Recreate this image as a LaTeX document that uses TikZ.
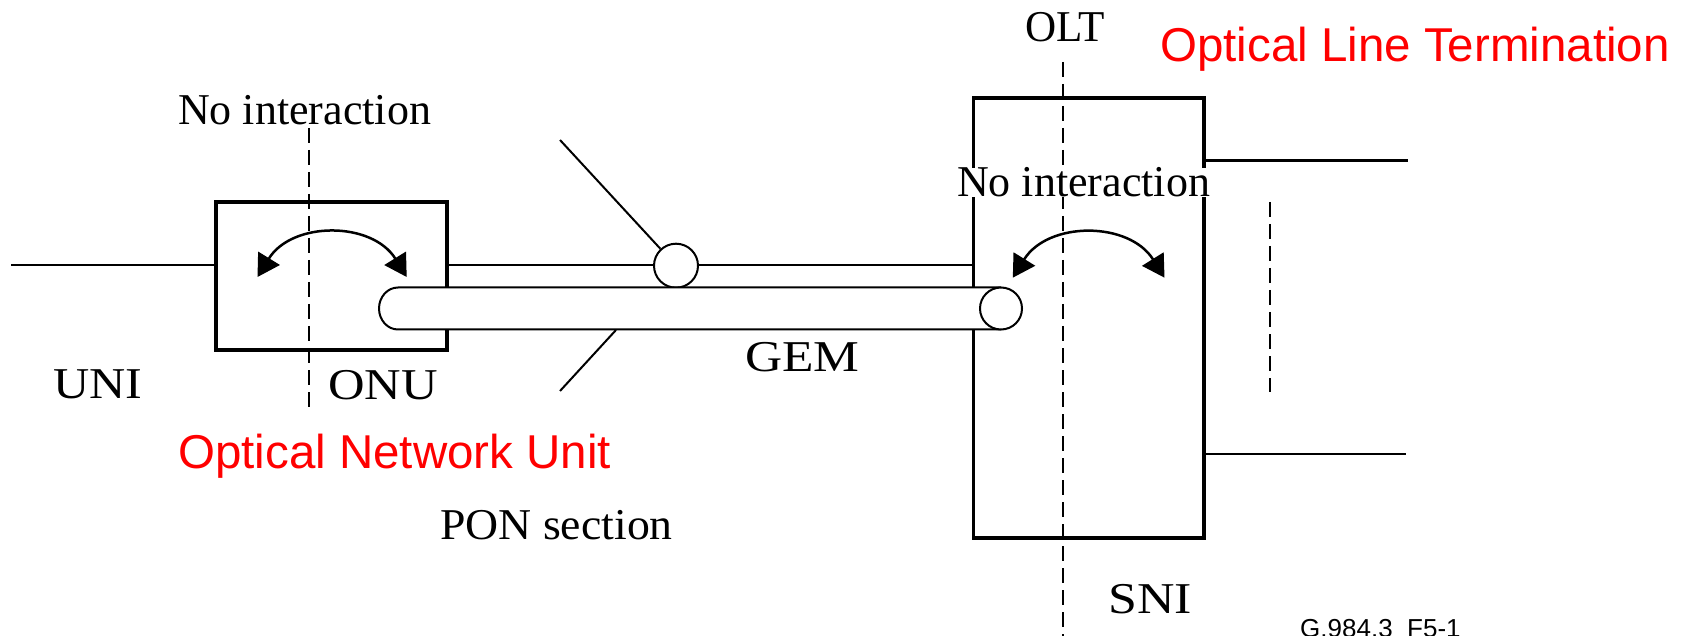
\documentclass[tikz,border=0pt]{standalone}
\usepackage{fontspec}
\setmainfont{Liberation Serif}
\newfontfamily\arialf{Liberation Sans}
\usetikzlibrary{arrows.meta}
\begin{document}
\begin{tikzpicture}[x=1pt,y=-1pt,
  thinln/.style={line width=2pt},
  boxstyle/.style={draw, line width=3.6pt, inner sep=0pt},
  dashln/.style={line width=2pt, dash pattern=on 15pt off 7pt},
  twoway/.style={line width=2.5pt, {Triangle[length=22pt,width=25pt]}-{Triangle[length=22pt,width=25pt]}},
  lbl/.style={inner sep=0pt, anchor=base west, font=\fontsize{44}{50}\selectfont},
  redlbl/.style={inner sep=0pt, anchor=base west, text=red, font=\arialf\fontsize{47.5}{54}\selectfont},
  idlbl/.style={inner sep=0pt, anchor=base west, font=\arialf\fontsize{26}{30}\selectfont}]
\useasboundingbox (0,0) rectangle (1692,636);
\fill[white] (0,0) rectangle (1692,636);
% boxes
\node[boxstyle, minimum width=231.3pt, minimum height=148pt] (onu) at (331.4,276) {};
\node[boxstyle, minimum width=230.3pt, minimum height=440.3pt] (olt) at (1088.7,317.9) {};
% lines
\coordinate (uniL) at (11,265);
\draw[thinln] (uniL) -- (uniL -| onu.west);
\draw[thinln] (onu.east |- uniL) -- (olt.west |- uniL);
\coordinate (r1) at (1407.6,160.7);
\draw[line width=2.6pt] (olt.east |- r1) -- (r1);
\coordinate (r2) at (1406,454);
\draw[thinln] (olt.east |- r2) -- (r2);
% splitter circle
\node[circle, draw, fill=white, thinln, minimum size=44pt, inner sep=0pt] (spl) at (676,265.7) {};
\coordinate (d1) at (560,140);
\draw[thinln] (d1) -- (spl);
\coordinate (d2a) at (616,330);
\coordinate (d2b) at (560,391);
\draw[thinln] (d2a) -- (d2b);
% GEM tube
\filldraw[thinln, fill=white] (1001,287.5) -- (398,287.5) arc[start angle=270, end angle=90, x radius=19, y radius=21] -- (1001,329.5);
\node[circle, draw, fill=white, thinln, minimum size=42pt, inner sep=0pt] (tubeend) at (1001,308.5) {};
% arrows
\coordinate (aL1) at (257.5,277);
\coordinate (aR1) at (406.7,277);
\draw[twoway] (aL1) .. controls (292,221) and (372,221) .. (aR1);
\coordinate (aL2) at (1012.8,277.7);
\coordinate (aR2) at (1164.5,277.7);
\draw[twoway] (aL2) .. controls (1048,221) and (1129,221) .. (aR2);
% dashed lines
\coordinate (dA1) at (309.3,128);
\coordinate (dA2) at (309.3,410);
\draw[dashln] (dA1) -- (dA2);
\coordinate (dB1) at (1063,62);
\coordinate (dB2) at (1063,640);
\draw[dashln] (dB1) -- (dB2);
\coordinate (dC1) at (1270,202);
\coordinate (dC2) at (1270,392);
\draw[dashln] (dC1) -- (dC2);
% labels
\node[lbl] (noiL) at (178,125) {No interaction};
\node[lbl, fill=white] (noiR) at (957,197) {No interaction};
\node[lbl] (oltlbl) at (1025,42) {\scalebox{0.98}[1]{OLT}};
\node[redlbl] (oltred) at (1160,62) {Optical Line Termination};
\node[lbl] (unilbl) at (53,398) {\scalebox{1.14}[1]{UNI}};
\node[lbl] (onulbl) at (328,399) {\scalebox{1.15}[1]{ONU}};
\node[redlbl] (onured) at (178,468) {Optical Network Unit};
\node[lbl] (ponlbl) at (440,539) {\scalebox{1.04}[1]{PON section}};
\node[lbl] (gemlbl) at (745,371) {\scalebox{1.17}[1]{GEM}};
\node[lbl] (snilbl) at (1108,613) {\scalebox{1.18}[1]{SNI}};
\node[idlbl] (figid) at (1300,637) {G.984.3\_F5-1};
\end{tikzpicture}
\end{document}
